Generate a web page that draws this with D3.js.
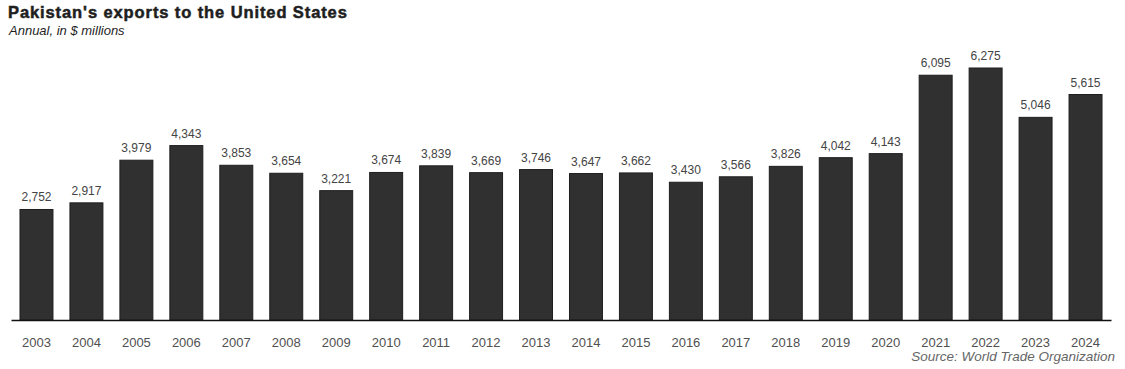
<!DOCTYPE html>
<html>
<head>
<meta charset="utf-8">
<script src="https://cdn.jsdelivr.net/npm/d3@7"></script>
<style>
  body { margin: 0; background: #fff; }
  svg { display: block; font-family: 'Liberation Sans', Arial, sans-serif; }
</style>
</head>
<body>
<div id="chart"></div>
<script>
var years = ['2003', '2004', '2005', '2006', '2007', '2008', '2009', '2010', '2011', '2012', '2013',
    '2014', '2015', '2016', '2017', '2018', '2019', '2020', '2021', '2022', '2023', '2024'];
var exportsUS = [2752, 2917, 3979, 4343, 3853, 3654, 3221, 3674, 3839, 3669, 3746,
    3647, 3662, 3430, 3566, 3826, 4042, 4143, 6095, 6275, 5046, 5615];

var data = years.map(function(y, i) { return { year: y, value: exportsUS[i] }; });

var width = 1125, height = 369;
var svg = d3.select('#chart').append('svg')
    .attr('width', width)
    .attr('height', height);

// title block
svg.append('text')
    .attr('x', 8)
    .attr('y', 18)
    .attr('font-size', '16.5px')
    .attr('font-weight', 'bold')
    .attr('letter-spacing', '0.9px')
    .attr('fill', '#1e1e1e')
    .attr('stroke', '#1e1e1e')
    .attr('stroke-width', 0.5)
    .text("Pakistan's exports to the United States");

svg.append('text')
    .attr('x', 9)
    .attr('y', 35)
    .attr('font-size', '13px')
    .attr('font-style', 'italic')
    .attr('fill', '#1e1e1e')
    .text('Annual, in $ millions');

var baseline = 320;

var x = d3.scaleBand()
    .domain(years)
    .range([11, 1111])
    .paddingInner(0.34)
    .paddingOuter(0.18);

var y = d3.scaleLinear()
    .domain([0, 6275])
    .range([baseline, 68]);

svg.selectAll('.bar')
    .data(data)
    .enter().append('rect')
    .attr('class', 'bar')
    .attr('x', function(d) { return x(d.year); })
    .attr('y', function(d) { return y(d.value); })
    .attr('width', x.bandwidth())
    .attr('height', function(d) { return baseline - y(d.value); })
    .attr('fill', '#303030')
    .attr('stroke', '#1e1e1e')
    .attr('stroke-width', 1);

svg.selectAll('.val')
    .data(data)
    .enter().append('text')
    .attr('class', 'val')
    .attr('x', function(d) { return x(d.year) + x.bandwidth() / 2; })
    .attr('y', function(d) { return y(d.value) - 8; })
    .attr('text-anchor', 'middle')
    .attr('font-size', '12px')
    .attr('fill', '#444')
    .text(function(d) { return d3.format(',')(d.value); });

var xAxis = svg.append('g')
    .attr('transform', 'translate(0,' + baseline + ')')
    .call(d3.axisBottom(x).tickSize(0).tickPadding(18));

xAxis.select('.domain')
    .attr('stroke', '#111')
    .attr('stroke-width', 1.5);

xAxis.selectAll('text')
    .attr('font-size', '13px')
    .attr('font-family', "'Liberation Sans', Arial, sans-serif")
    .attr('fill', '#505050');

svg.append('text')
    .attr('x', 1115)
    .attr('y', 361)
    .attr('text-anchor', 'end')
    .attr('font-size', '13.5px')
    .attr('font-style', 'italic')
    .attr('fill', '#666')
    .text('Source: World Trade Organization');
</script>
</body>
</html>
